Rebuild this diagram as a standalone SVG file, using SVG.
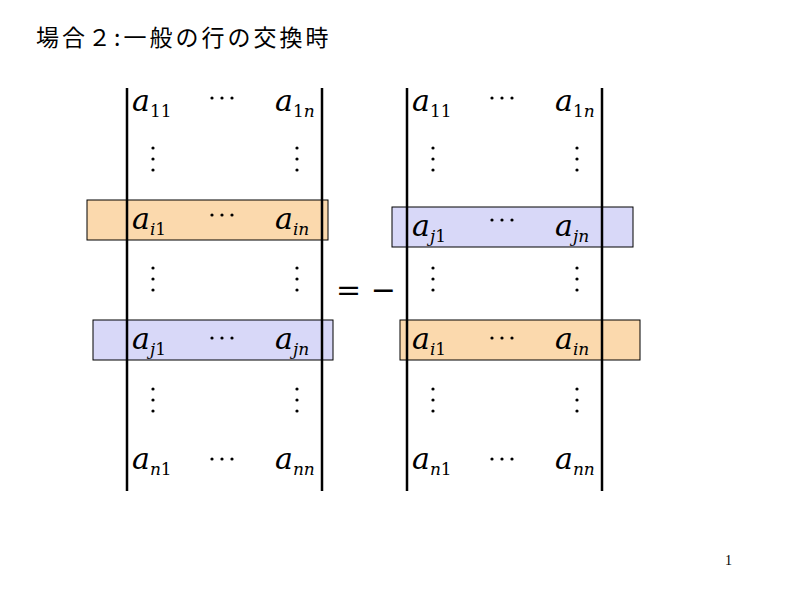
<svg xmlns="http://www.w3.org/2000/svg" width="800" height="600" viewBox="0 0 800 600">
<style>
.a{font-family:"DejaVu Serif","Liberation Serif",serif;font-style:italic;font-size:30px;fill:#000}
.s{font-size:17px}
.n{font-style:normal}
.bar{stroke:#000;stroke-width:2.5}
.or{fill:#fbd9ad;stroke:#000;stroke-width:1}
.bl{fill:#d8d8f8;stroke:#000;stroke-width:1}
.h{font-family:"DejaVu Serif",serif;font-size:30px}
</style>
<defs>
<g id="vd"><circle cx="0" cy="0" r="1.6"/><circle cx="0" cy="11" r="1.6"/><circle cx="0" cy="22" r="1.6"/></g>
<g id="hd"><circle cx="0" cy="0" r="1.6"/><circle cx="10" cy="0" r="1.6"/><circle cx="20" cy="0" r="1.6"/></g>
</defs>
<text x="36" y="46" font-family="'Noto Sans CJK JP',sans-serif" font-size="23" letter-spacing="3">場合２:一般の行の交換時</text>
<g id="boxes">
<rect class="or" x="87" y="200" width="241" height="40"/>
<rect class="bl" x="93" y="320" width="240" height="40"/>
<rect class="bl" x="392" y="207" width="241" height="40"/>
<rect class="or" x="400" y="320" width="240" height="40"/>
</g>
<g id="bars">
<line class="bar" x1="127" y1="88" x2="127" y2="491"/>
<line class="bar" x1="322" y1="88" x2="322" y2="491"/>
<line class="bar" x1="407" y1="88" x2="407" y2="491"/>
<line class="bar" x1="602" y1="88" x2="602" y2="491"/>
</g>
<g id="left">
<text class="a" x="132" y="111">a<tspan class="s n" dy="6">11</tspan></text>
<text class="a" x="275" y="111">a<tspan class="s n" dy="6">1</tspan><tspan class="s" >n</tspan></text>
<text class="a" x="132" y="229">a<tspan class="s" dy="6">i</tspan><tspan class="s n">1</tspan></text>
<text class="a" x="275" y="229">a<tspan class="s" dy="6">in</tspan></text>
<text class="a" x="132" y="349">a<tspan class="s" dy="6">j</tspan><tspan class="s n">1</tspan></text>
<text class="a" x="275" y="349">a<tspan class="s" dy="6">jn</tspan></text>
<text class="a" x="132" y="469">a<tspan class="s" dy="6">n</tspan><tspan class="s n">1</tspan></text>
<text class="a" x="275" y="469">a<tspan class="s" dy="6">nn</tspan></text>
<use href="#hd" x="212" y="98"/><use href="#hd" x="212" y="215"/><use href="#hd" x="212" y="338"/><use href="#hd" x="212" y="459"/>
<use href="#vd" x="153" y="148"/><use href="#vd" x="297" y="148"/>
<use href="#vd" x="153" y="268"/><use href="#vd" x="297" y="268"/>
<use href="#vd" x="153" y="389"/><use href="#vd" x="297" y="389"/>
</g>
<text class="h" x="336" y="300">= −</text>
<g id="right">
<text class="a" x="412" y="111">a<tspan class="s n" dy="6">11</tspan></text>
<text class="a" x="555" y="111">a<tspan class="s n" dy="6">1</tspan><tspan class="s">n</tspan></text>
<text class="a" x="412" y="236">a<tspan class="s" dy="6">j</tspan><tspan class="s n">1</tspan></text>
<text class="a" x="555" y="236">a<tspan class="s" dy="6">jn</tspan></text>
<text class="a" x="412" y="349">a<tspan class="s" dy="6">i</tspan><tspan class="s n">1</tspan></text>
<text class="a" x="555" y="349">a<tspan class="s" dy="6">in</tspan></text>
<text class="a" x="412" y="469">a<tspan class="s" dy="6">n</tspan><tspan class="s n">1</tspan></text>
<text class="a" x="555" y="469">a<tspan class="s" dy="6">nn</tspan></text>
<use href="#hd" x="492" y="98"/><use href="#hd" x="492" y="220"/><use href="#hd" x="492" y="338"/><use href="#hd" x="492" y="459"/>
<use href="#vd" x="433" y="148"/><use href="#vd" x="577" y="148"/>
<use href="#vd" x="433" y="268"/><use href="#vd" x="577" y="268"/>
<use href="#vd" x="433" y="389"/><use href="#vd" x="577" y="389"/>
</g>
<text x="725" y="565" font-family="'Liberation Serif',serif" font-size="14">1</text>
</svg>
